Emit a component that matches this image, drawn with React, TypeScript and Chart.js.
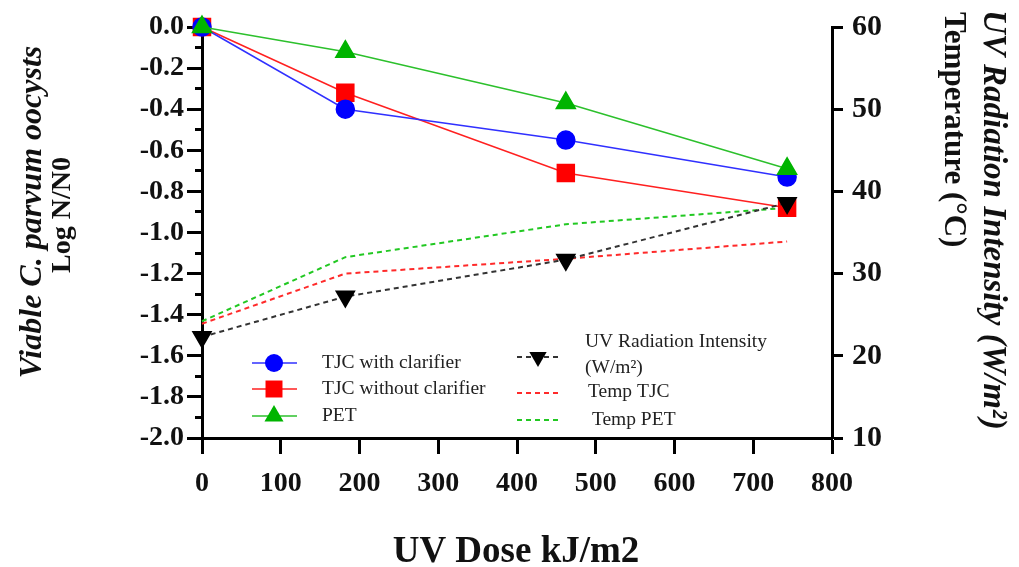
import React, { useEffect, useRef } from 'react';
import { Chart, registerables } from 'chart.js';

Chart.register(...registerables);

// ---- data ----
const doses = [0, 182, 462, 743];
const tjcWithClarifier = [0, -0.4, -0.55, -0.73];
const tjcWithoutClarifier = [0, -0.32, -0.71, -0.88];
const petValues = [0, -0.12, -0.37, -0.69];
const uvIntensity = [22.3, 27.2, 31.7, 38.6];
const tempTJC = [23.9, 30.0, 31.8, 33.9];
const tempPET = [24.2, 32.0, 36.0, 38.0];

const xTitle = 'UV Dose kJ/m2';
const leftTitle1 = 'Viable C. parvum oocysts';
const leftTitle2 = 'Log N/N0';
const rightTitle1 = 'UV Radiation Intensity (W/m\u00B2)';
const rightTitle2 = 'Temperature (\u00B0C)';

const SERIF = '"Liberation Serif", "Times New Roman", serif';

const pts = (vals: number[]) => doses.map((d, i) => ({ x: d, y: vals[i] }));

function drawMarker(ctx: CanvasRenderingContext2D, shape: string, x: number, y: number, r: number, color: string) {
  ctx.save();
  ctx.fillStyle = color;
  ctx.beginPath();
  if (shape === 'circle') {
    ctx.arc(x, y, r, 0, Math.PI * 2);
  } else if (shape === 'rect') {
    const s = r * Math.SQRT1_2;
    ctx.rect(x - s, y - s, 2 * s, 2 * s);
  } else if (shape === 'triUp') {
    ctx.moveTo(x, y - r);
    ctx.lineTo(x + r * 0.866, y + r * 0.5);
    ctx.lineTo(x - r * 0.866, y + r * 0.5);
    ctx.closePath();
  } else if (shape === 'triDown') {
    ctx.moveTo(x, y + r);
    ctx.lineTo(x + r * 0.866, y - r * 0.5);
    ctx.lineTo(x - r * 0.866, y - r * 0.5);
    ctx.closePath();
  }
  ctx.fill();
  ctx.restore();
}

const annotatePlugin = {
  id: 'annotate',
  afterDraw(chart: any) {
    const ctx: CanvasRenderingContext2D = chart.ctx;
    ctx.save();
    ctx.fillStyle = '#111';
    // left titles
    ctx.save();
    ctx.translate(33, 212);
    ctx.rotate(-Math.PI / 2);
    ctx.textAlign = 'center';
    ctx.textBaseline = 'middle';
    ctx.font = `italic bold 32px ${SERIF}`;
    ctx.fillText(leftTitle1, 0, 0);
    ctx.restore();
    ctx.save();
    ctx.translate(63, 215);
    ctx.rotate(-Math.PI / 2);
    ctx.textAlign = 'center';
    ctx.textBaseline = 'middle';
    ctx.font = `bold 28px ${SERIF}`;
    ctx.fillText(leftTitle2, 0, 0);
    ctx.restore();
    // right titles
    ctx.save();
    ctx.translate(993, 10);
    ctx.rotate(Math.PI / 2);
    ctx.textAlign = 'left';
    ctx.textBaseline = 'middle';
    ctx.font = `italic bold 33px ${SERIF}`;
    ctx.fillText(rightTitle1, 0, 0);
    ctx.restore();
    ctx.save();
    ctx.translate(953, 12);
    ctx.rotate(Math.PI / 2);
    ctx.textAlign = 'left';
    ctx.textBaseline = 'middle';
    ctx.font = `bold 31px ${SERIF}`;
    ctx.fillText(rightTitle2, 0, 0);
    ctx.restore();
    // x title
    ctx.textAlign = 'center';
    ctx.textBaseline = 'alphabetic';
    ctx.font = `bold 37px ${SERIF}`;
    ctx.fillText(xTitle, 516, 562);

    // legend
    const ds = chart.data.datasets;
    const solid = [
      { d: ds[0], y: 363, shape: 'circle', r: 9 },
      { d: ds[1], y: 389, shape: 'rect', r: 12 },
      { d: ds[2], y: 416, shape: 'triUp', r: 11 },
    ];
    solid.forEach((it) => {
      ctx.save();
      ctx.strokeStyle = it.d.borderColor;
      ctx.lineWidth = 1.5;
      ctx.beginPath();
      ctx.moveTo(252, it.y);
      ctx.lineTo(297, it.y);
      ctx.stroke();
      ctx.restore();
      drawMarker(ctx, it.shape, 274, it.y, it.r, it.d.pointBackgroundColor);
      ctx.fillStyle = '#222';
      ctx.font = `19.5px ${SERIF}`;
      ctx.textAlign = 'left';
      ctx.textBaseline = 'middle';
      ctx.fillText(it.d.label, 322, it.y);
    });
    const dashed = [
      { d: ds[3], y: 357, tri: true },
      { d: ds[4], y: 393, tri: false },
      { d: ds[5], y: 420, tri: false },
    ];
    dashed.forEach((it) => {
      ctx.save();
      ctx.strokeStyle = it.d.borderColor;
      ctx.lineWidth = 2;
      ctx.setLineDash([5, 4]);
      ctx.beginPath();
      ctx.moveTo(517, it.y);
      ctx.lineTo(560, it.y);
      ctx.stroke();
      ctx.restore();
      if (it.tri) drawMarker(ctx, 'triDown', 538, it.y, 10, '#000');
    });
    ctx.fillStyle = '#222';
    ctx.font = `19.5px ${SERIF}`;
    ctx.textAlign = 'left';
    ctx.textBaseline = 'middle';
    ctx.fillText('UV Radiation Intensity', 585, 342);
    ctx.fillText('(W/m\u00B2)', 585, 368);
    ctx.fillText('Temp TJC', 588, 392);
    ctx.fillText(' Temp PET', 587, 420);
    ctx.restore();
  },
};

export default function App() {
  const ref = useRef<HTMLCanvasElement | null>(null);
  useEffect(() => {
    document.body.style.margin = '0';
    const canvas = ref.current;
    if (!canvas) return;
    const tickFont = (size: number) => ({ family: SERIF, size, weight: 'bold' as const });
    const chart = new Chart(canvas, {
      type: 'line',
      data: {
        datasets: [
          {
            label: 'TJC with clarifier',
            data: pts(tjcWithClarifier),
            borderColor: '#3030FF',
            backgroundColor: '#0000FF',
            pointBackgroundColor: '#0000FF',
            pointBorderColor: '#0000FF',
            borderWidth: 1.5,
            pointRadius: 9,
            pointStyle: 'circle',
            yAxisID: 'y',
            order: 1,
            clip: false,
          },
          {
            label: 'TJC without clarifier',
            data: pts(tjcWithoutClarifier),
            borderColor: '#FF2020',
            backgroundColor: '#FF0000',
            pointBackgroundColor: '#FF0000',
            pointBorderColor: '#FF0000',
            borderWidth: 1.5,
            pointRadius: 12,
            pointStyle: 'rect',
            yAxisID: 'y',
            order: 3,
            clip: false,
          },
          {
            label: 'PET',
            data: pts(petValues),
            borderColor: '#2CC02C',
            backgroundColor: '#00B400',
            pointBackgroundColor: '#00B400',
            pointBorderColor: '#00B400',
            borderWidth: 1.5,
            pointRadius: 11,
            pointStyle: 'triangle',
            yAxisID: 'y',
            order: 0,
            clip: false,
          },
          {
            label: 'UV Radiation Intensity (W/m\u00B2)',
            data: pts(uvIntensity),
            borderColor: '#333333',
            backgroundColor: '#000000',
            pointBackgroundColor: '#000000',
            pointBorderColor: '#000000',
            borderWidth: 2,
            borderDash: [5, 4],
            pointRadius: 10,
            pointStyle: 'triangle',
            pointRotation: 180,
            yAxisID: 'y2',
            order: 2,
            clip: false,
          },
          {
            label: 'Temp TJC',
            data: pts(tempTJC),
            borderColor: '#FF2A2A',
            backgroundColor: '#FF2A2A',
            borderWidth: 2,
            borderDash: [5, 4],
            pointRadius: 0,
            yAxisID: 'y2',
            order: 4,
            clip: false,
          },
          {
            label: 'Temp PET',
            data: pts(tempPET),
            borderColor: '#22C822',
            backgroundColor: '#22C822',
            borderWidth: 2,
            borderDash: [5, 4],
            pointRadius: 0,
            yAxisID: 'y2',
            order: 4,
            clip: false,
          },
        ],
      },
      options: {
        responsive: false,
        animation: false,
        layout: { padding: { top: 20, left: 0, right: 0, bottom: 0 } },
        plugins: {
          legend: { display: false },
          title: { display: false },
          tooltip: { enabled: false },
        },
        scales: {
          x: {
            type: 'linear',
            position: 'bottom',
            min: 0,
            max: 800,
            afterFit: (s: any) => {
              s.height = 129;
            },
            ticks: {
              stepSize: 100,
              font: tickFont(28),
              color: '#111',
              padding: 13,
              maxRotation: 0,
              autoSkip: false,
            },
            grid: { drawOnChartArea: false, tickLength: 16, tickWidth: 3, tickColor: '#000' },
            border: { width: 3, color: '#000' },
          },
          y: {
            type: 'linear',
            position: 'left',
            min: -2,
            max: 0,
            weight: 1,
            afterFit: (s: any) => {
              s.width = 202;
            },
            ticks: {
              stepSize: 0.2,
              font: tickFont(28),
              color: '#111',
              padding: 3,
              callback: (v: any) => Number(v).toFixed(1),
            },
            grid: { drawOnChartArea: false, tickLength: 15, tickWidth: 3, tickColor: '#000' },
            border: { width: 3, color: '#000' },
          },
          yMinor: {
            type: 'linear',
            position: 'left',
            min: -2,
            max: 0,
            weight: 0,
            afterFit: (s: any) => {
              s.width = 0;
            },
            ticks: { stepSize: 0.1, display: false },
            grid: { drawOnChartArea: false, tickLength: 7, tickWidth: 3, tickColor: '#000' },
            border: { display: false },
          },
          y2: {
            type: 'linear',
            position: 'right',
            min: 10,
            max: 60,
            afterFit: (s: any) => {
              s.width = 187;
            },
            ticks: {
              stepSize: 10,
              font: tickFont(30),
              color: '#111',
              padding: 9,
            },
            grid: { drawOnChartArea: false, tickLength: 11, tickWidth: 3, tickColor: '#000' },
            border: { width: 3, color: '#000' },
          },
        },
      } as any,
      plugins: [annotatePlugin],
    });
    return () => chart.destroy();
  }, []);
  return (
    <div style={{ width: 1019, height: 567 }}>
      <canvas ref={ref} width={1019} height={567} style={{ display: 'block' }} />
    </div>
  );
}
